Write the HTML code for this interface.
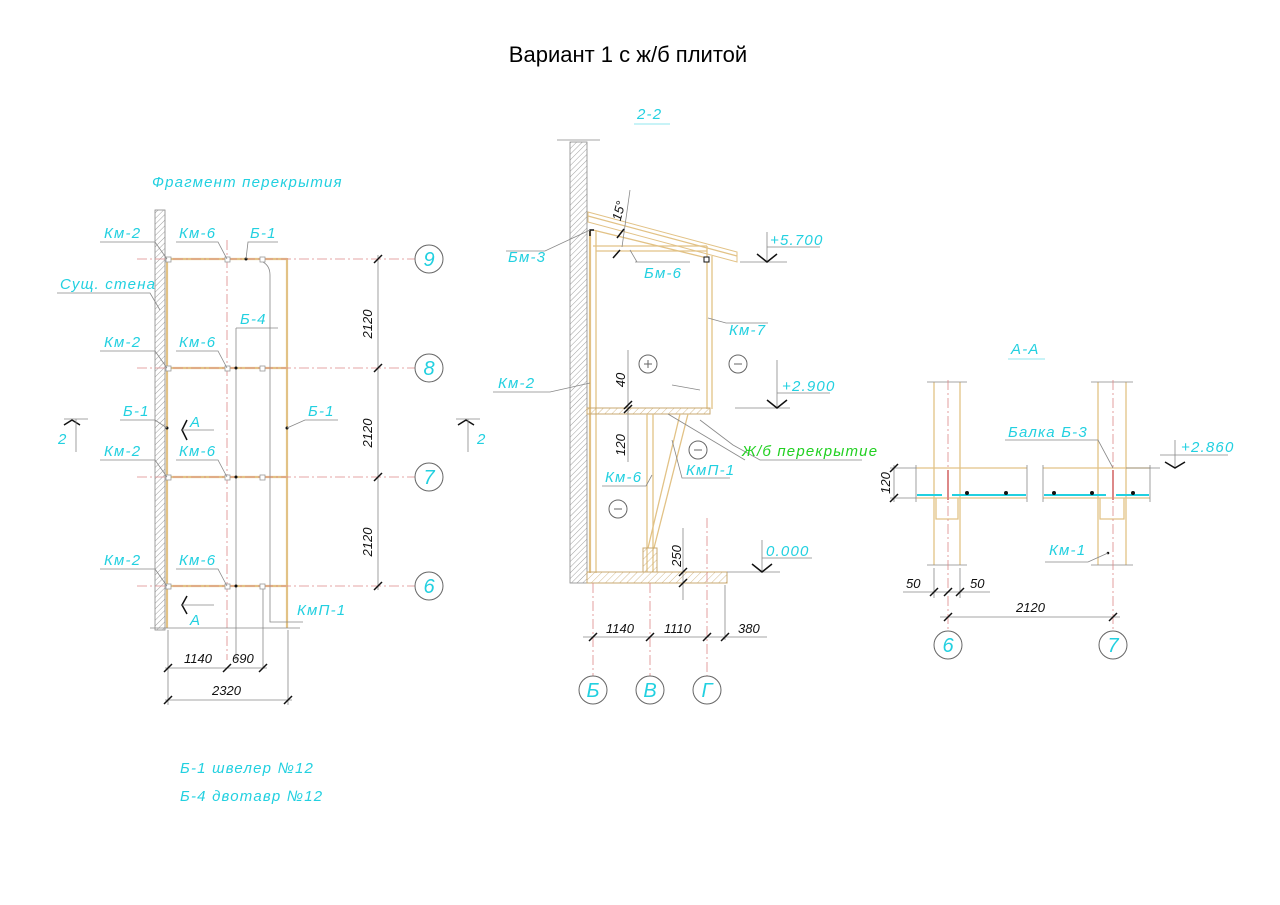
<!DOCTYPE html>
<html><head><meta charset="utf-8"><style>
html,body{margin:0;padding:0;background:#fff}
svg{display:block}
.t{font-family:"Liberation Sans",sans-serif;font-style:italic;fill:#22d0e0;font-size:15px;letter-spacing:1.2px}
.d{font-family:"Liberation Sans",sans-serif;font-style:italic;fill:#111;font-size:13px}
.g{fill:none;stroke:#888;stroke-width:0.8}
.y{fill:none;stroke:#e2c286;stroke-width:2.2}
.y1{fill:none;stroke:#e2c286;stroke-width:1.3}
.r{stroke:#d88;stroke-width:0.8;stroke-dasharray:10 3 2 3}
.k{stroke:#111;stroke-width:1.5}
.c{fill:#fff;stroke:#666;stroke-width:1}
.n{font-family:"Liberation Sans",sans-serif;font-style:italic;fill:#22d0e0;font-size:20px;text-anchor:middle}
</style></head><body>
<svg width="1280" height="905" viewBox="0 0 1280 905" xmlns="http://www.w3.org/2000/svg">
<defs>
<pattern id="h" width="4" height="4" patternUnits="userSpaceOnUse" patternTransform="rotate(45)"><line x1="0" y1="0" x2="0" y2="4" stroke="#888" stroke-width="0.8"/></pattern>
<pattern id="hy" width="5" height="5" patternUnits="userSpaceOnUse" patternTransform="rotate(45)"><line x1="0" y1="0" x2="0" y2="5" stroke="#c8a870" stroke-width="0.8"/></pattern>
</defs>
<text x="628" y="62" text-anchor="middle" font-family="Liberation Sans,sans-serif" font-size="22" fill="#000">Вариант 1  с ж/б плитой</text>

<!-- LEFT PLAN -->
<text x="152" y="187" class="t">Фрагмент перекрытия</text>
<rect x="155" y="210" width="10" height="420" fill="url(#h)" stroke="#888" stroke-width="0.8"/>
<line x1="167" y1="258" x2="167" y2="628" class="y"/>
<line x1="287" y1="258" x2="287" y2="628" class="y"/>
<line x1="167" y1="259" x2="287" y2="259" class="y"/>
<line x1="167" y1="368" x2="287" y2="368" class="y"/>
<line x1="167" y1="477" x2="287" y2="477" class="y"/>
<line x1="167" y1="586" x2="287" y2="586" class="y"/>
<line x1="227" y1="240" x2="227" y2="660" class="r"/>
<line x1="236" y1="328" x2="236" y2="660" class="g"/>
<line x1="263" y1="586" x2="263" y2="668" class="g"/>
<path d="M263 262 Q270 266 270 275 L270 622 L303 622" class="g"/>
<g class="r"><line x1="137" y1="259" x2="415" y2="259"/><line x1="137" y1="368" x2="415" y2="368"/><line x1="137" y1="477" x2="415" y2="477"/><line x1="137" y1="586" x2="415" y2="586"/></g>
<line x1="150" y1="628" x2="300" y2="628" class="g"/>
<g fill="#fff" stroke="#999" stroke-width="0.8">
<rect x="166" y="257" width="5" height="5"/><rect x="225" y="257" width="5" height="5"/><rect x="260" y="257" width="5" height="5"/>
<rect x="166" y="366" width="5" height="5"/><rect x="225" y="366" width="5" height="5"/><rect x="260" y="366" width="5" height="5"/>
<rect x="166" y="475" width="5" height="5"/><rect x="225" y="475" width="5" height="5"/><rect x="260" y="475" width="5" height="5"/>
<rect x="166" y="584" width="5" height="5"/><rect x="225" y="584" width="5" height="5"/><rect x="260" y="584" width="5" height="5"/>
</g>
<g fill="#111"><circle cx="246" cy="259" r="1.5"/><circle cx="236" cy="368" r="1.5"/><circle cx="236" cy="477" r="1.5"/><circle cx="236" cy="586" r="1.5"/><circle cx="167" cy="428" r="1.5"/><circle cx="287" cy="428" r="1.5"/></g>
<g class="g">
<path d="M100 242 L155 242 L167 259"/><path d="M176 242 L218 242 L227 259"/><path d="M246 259 L248 242 L278 242"/>
<path d="M57 293 L150 293 L160 310"/>
<path d="M100 351 L155 351 L167 368"/><path d="M176 351 L218 351 L227 368"/><path d="M236 328 L278 328"/>
<path d="M120 420 L155 420 L167 428"/><path d="M287 428 L305 420 L338 420"/>
<path d="M100 460 L155 460 L167 477"/><path d="M176 460 L218 460 L227 477"/>
<path d="M100 569 L155 569 L167 586"/><path d="M176 569 L218 569 L227 586"/>
</g>
<text x="104" y="238" class="t">Км-2</text><text x="179" y="238" class="t">Км-6</text><text x="250" y="238" class="t">Б-1</text>
<text x="60" y="289" class="t">Сущ. стена</text>
<text x="104" y="347" class="t">Км-2</text><text x="179" y="347" class="t">Км-6</text><text x="240" y="324" class="t">Б-4</text>
<text x="123" y="416" class="t">Б-1</text><text x="308" y="416" class="t">Б-1</text>
<text x="104" y="456" class="t">Км-2</text><text x="179" y="456" class="t">Км-6</text>
<text x="104" y="565" class="t">Км-2</text><text x="179" y="565" class="t">Км-6</text>
<text x="297" y="615" class="t">КмП-1</text>
<path d="M187 420 L182 430 L187 440" class="k" fill="none"/><line x1="182" y1="430" x2="214" y2="430" class="g"/><text x="190" y="427" class="t" font-size="16">А</text>
<path d="M187 596 L182 605 L187 614" class="k" fill="none"/><line x1="182" y1="605" x2="214" y2="605" class="g"/><text x="190" y="625" class="t" font-size="16">А</text>
<path d="M64 425 L72 420 L80 425" class="k" fill="none"/><line x1="64" y1="419" x2="88" y2="419" class="g"/><line x1="76" y1="419" x2="76" y2="452" class="g"/><text x="58" y="444" class="t" font-size="16">2</text>
<path d="M458 425 L466 420 L474 425" class="k" fill="none"/><line x1="456" y1="419" x2="480" y2="419" class="g"/><line x1="468" y1="419" x2="468" y2="452" class="g"/><text x="477" y="444" class="t" font-size="16">2</text>
<line x1="378" y1="255" x2="378" y2="590" class="g"/>
<g class="k"><line x1="374" y1="263" x2="382" y2="255"/><line x1="374" y1="372" x2="382" y2="364"/><line x1="374" y1="481" x2="382" y2="473"/><line x1="374" y1="590" x2="382" y2="582"/></g>
<text class="d" transform="translate(372,324) rotate(-90)" text-anchor="middle">2120</text>
<text class="d" transform="translate(372,433) rotate(-90)" text-anchor="middle">2120</text>
<text class="d" transform="translate(372,542) rotate(-90)" text-anchor="middle">2120</text>
<g><circle cx="429" cy="259" r="14" class="c"/><text x="429" y="266" class="n">9</text>
<circle cx="429" cy="368" r="14" class="c"/><text x="429" y="375" class="n">8</text>
<circle cx="429" cy="477" r="14" class="c"/><text x="429" y="484" class="n">7</text>
<circle cx="429" cy="586" r="14" class="c"/><text x="429" y="593" class="n">6</text></g>
<line x1="168" y1="630" x2="168" y2="705" class="g"/><line x1="288" y1="630" x2="288" y2="705" class="g"/>
<line x1="165" y1="668" x2="267" y2="668" class="g"/><line x1="165" y1="700" x2="292" y2="700" class="g"/>
<g class="k"><line x1="164" y1="672" x2="172" y2="664"/><line x1="223" y1="672" x2="231" y2="664"/><line x1="259" y1="672" x2="267" y2="664"/><line x1="164" y1="704" x2="172" y2="696"/><line x1="284" y1="704" x2="292" y2="696"/></g>
<text x="184" y="663" class="d">1140</text><text x="232" y="663" class="d">690</text><text x="212" y="695" class="d">2320</text>
<text x="180" y="773" class="t">Б-1 швелер №12</text>
<text x="180" y="801" class="t">Б-4 двотавр №12</text>

<!-- SECTION 2-2 -->
<text x="637" y="119" class="t" font-size="16">2-2</text><line x1="634" y1="124" x2="670" y2="124" stroke="#22d0e0" stroke-width="0.6"/>
<line x1="557" y1="140" x2="600" y2="140" class="g"/>
<rect x="570" y="142" width="17" height="441" fill="url(#h)" stroke="#888" stroke-width="0.8"/>
<path d="M588 212 L737 252 L737 262 L588 222 Z" fill="#fff" stroke="#e2c286" stroke-width="1"/>
<line x1="588" y1="216" x2="737" y2="256" class="y1"/>
<line x1="593" y1="230" x2="707" y2="258" class="y1"/>
<line x1="590" y1="230" x2="590" y2="573" class="y"/>
<line x1="596" y1="230" x2="596" y2="573" class="y1"/>
<line x1="593" y1="246" x2="707" y2="246" class="y1"/><line x1="596" y1="251" x2="707" y2="251" class="y1"/>
<line x1="707" y1="246" x2="707" y2="409" class="y1"/><line x1="712" y1="256" x2="712" y2="409" class="y1"/>
<rect x="704" y="257" width="5" height="5" fill="#fff" stroke="#111"/>
<path d="M590 236 L590 230 L594 230" stroke="#111" fill="none" stroke-width="1.5"/>
<rect x="587" y="408" width="123" height="6" fill="url(#hy)" stroke="#c8a870" stroke-width="1"/>
<line x1="647" y1="414" x2="647" y2="572" class="y1"/><line x1="653" y1="414" x2="653" y2="572" class="y1"/>
<line x1="680" y1="414" x2="648" y2="548" class="y1"/><line x1="688" y1="414" x2="654" y2="548" class="y1"/>
<rect x="643" y="548" width="14" height="24" fill="url(#hy)" stroke="#c8a870" stroke-width="1"/>
<rect x="587" y="572" width="140" height="11" fill="url(#hy)" stroke="#c8a870" stroke-width="1"/>
<line x1="727" y1="572" x2="780" y2="572" class="g"/>
<g class="r"><line x1="593" y1="583" x2="593" y2="676"/><line x1="650" y1="583" x2="650" y2="676"/><line x1="707" y1="518" x2="707" y2="676"/></g>
<line x1="725" y1="585" x2="725" y2="640" class="g"/>
<g class="c"><circle cx="648" cy="364" r="9"/><circle cx="738" cy="364" r="9"/><circle cx="698" cy="450" r="9"/><circle cx="618" cy="509" r="9"/></g>
<g stroke="#666" stroke-width="1"><line x1="644" y1="364" x2="652" y2="364"/><line x1="648" y1="360" x2="648" y2="368"/><line x1="734" y1="364" x2="742" y2="364"/><line x1="694" y1="450" x2="702" y2="450"/><line x1="614" y1="509" x2="622" y2="509"/></g>
<g class="g">
<path d="M506 251 L545 251 L590 230"/><path d="M635 262 L690 262 M637 262 L630 250"/>
<path d="M708 318 L726 323 L768 323"/><path d="M493 392 L550 392 L590 383"/>
<path d="M672 385 L700 390 M700 420 L733 445 L760 460 L862 460"/><path d="M668 414 L745 460"/>
<path d="M602 486 L646 486 L652 475"/><path d="M672 440 L682 478 L730 478"/>
<path d="M630 190 L622 247"/>
<line x1="628" y1="350" x2="628" y2="462"/>
<line x1="683" y1="528" x2="683" y2="600"/>
</g>
<g class="k"><line x1="624" y1="413" x2="632" y2="405"/><line x1="624" y1="409" x2="632" y2="401"/><line x1="679" y1="576" x2="687" y2="568"/><line x1="679" y1="587" x2="687" y2="579"/><line x1="617" y1="238" x2="624" y2="229"/><line x1="613" y1="258" x2="620" y2="250"/></g>
<text class="d" transform="translate(625,380) rotate(-90)" text-anchor="middle">40</text>
<text class="d" transform="translate(625,445) rotate(-90)" text-anchor="middle">120</text>
<text class="d" transform="translate(681,556) rotate(-90)" text-anchor="middle">250</text>
<text class="d" transform="translate(623,212) rotate(-75)" text-anchor="middle">15°</text>
<text x="508" y="262" class="t">Бм-3</text><text x="644" y="278" class="t">Бм-6</text>
<text x="729" y="335" class="t">Км-7</text><text x="498" y="388" class="t">Км-2</text>
<text x="742" y="456" class="t" style="fill:#22d022">Ж/б перекрытие</text>
<text x="605" y="482" class="t">Км-6</text><text x="686" y="475" class="t">КмП-1</text>
<g class="g"><line x1="767" y1="232" x2="767" y2="262"/><line x1="740" y1="262" x2="787" y2="262"/><line x1="767" y1="247" x2="820" y2="247"/>
<line x1="777" y1="360" x2="777" y2="408"/><line x1="735" y1="408" x2="790" y2="408"/><line x1="777" y1="393" x2="830" y2="393"/>
<line x1="762" y1="540" x2="762" y2="572"/><line x1="762" y1="558" x2="812" y2="558"/></g>
<g class="k" fill="none"><path d="M757 254 L767 262 L777 254"/><path d="M767 400 L777 408 L787 400"/><path d="M752 564 L762 572 L772 564"/></g>
<text x="770" y="245" class="t">+5.700</text><text x="782" y="391" class="t">+2.900</text><text x="766" y="556" class="t">0.000</text>
<line x1="583" y1="637" x2="767" y2="637" class="g"/>
<g class="k"><line x1="589" y1="641" x2="597" y2="633"/><line x1="646" y1="641" x2="654" y2="633"/><line x1="703" y1="641" x2="711" y2="633"/><line x1="721" y1="641" x2="729" y2="633"/></g>
<text x="606" y="633" class="d">1140</text><text x="664" y="633" class="d">1110</text><text x="738" y="633" class="d">380</text>
<circle cx="593" cy="690" r="14" class="c"/><text x="593" y="697" class="n">Б</text>
<circle cx="650" cy="690" r="14" class="c"/><text x="650" y="697" class="n">В</text>
<circle cx="707" cy="690" r="14" class="c"/><text x="707" y="697" class="n">Г</text>

<!-- SECTION A-A -->
<text x="1011" y="354" class="t" font-size="16">А-А</text><line x1="1008" y1="359" x2="1045" y2="359" stroke="#22d0e0" stroke-width="0.6"/>
<g class="y1">
<line x1="934" y1="382" x2="934" y2="565"/><line x1="960" y1="382" x2="960" y2="565"/>
<line x1="1098" y1="382" x2="1098" y2="565"/><line x1="1126" y1="382" x2="1126" y2="565"/>
<line x1="916" y1="468" x2="1027" y2="468"/><line x1="916" y1="498" x2="1027" y2="498"/>
<line x1="1043" y1="468" x2="1150" y2="468"/><line x1="1043" y1="498" x2="1150" y2="498"/>
<path d="M936 498 L936 519 L958 519 L958 498"/><path d="M1100 498 L1100 519 L1124 519 L1124 498"/>
</g>
<g class="g"><line x1="927" y1="382" x2="967" y2="382"/><line x1="927" y1="565" x2="967" y2="565"/><line x1="1091" y1="382" x2="1133" y2="382"/><line x1="1091" y1="565" x2="1133" y2="565"/>
<line x1="916" y1="465" x2="916" y2="502"/><line x1="1027" y1="465" x2="1027" y2="502"/><line x1="1043" y1="465" x2="1043" y2="502"/><line x1="1150" y1="465" x2="1150" y2="502"/>
<line x1="1126" y1="468" x2="1160" y2="468"/><line x1="890" y1="468" x2="916" y2="468"/><line x1="890" y1="498" x2="916" y2="498"/>
<line x1="894" y1="465" x2="894" y2="502"/></g>
<g stroke="#22d0e0" stroke-width="2"><line x1="917" y1="495" x2="942" y2="495"/><line x1="952" y1="495" x2="1026" y2="495"/><line x1="1044" y1="495" x2="1106" y2="495"/><line x1="1116" y1="495" x2="1149" y2="495"/></g>
<g fill="#111"><circle cx="967" cy="493" r="2"/><circle cx="1006" cy="493" r="2"/><circle cx="1054" cy="493" r="2"/><circle cx="1092" cy="493" r="2"/><circle cx="1133" cy="493" r="2"/><circle cx="1108" cy="553" r="1.3"/></g>
<g class="r"><line x1="948" y1="380" x2="948" y2="630"/><line x1="1113" y1="380" x2="1113" y2="630"/></g>
<line x1="948" y1="470" x2="948" y2="500" stroke="#d88" stroke-width="2"/><line x1="1113" y1="470" x2="1113" y2="500" stroke="#d88" stroke-width="2"/>
<g class="g"><path d="M1005 440 L1098 440 L1113 468"/><path d="M1045 562 L1088 562 L1108 553"/><line x1="1160" y1="455" x2="1228" y2="455"/><line x1="1175" y1="440" x2="1175" y2="468"/>
<line x1="903" y1="592" x2="990" y2="592"/><line x1="934" y1="568" x2="934" y2="598"/><line x1="960" y1="568" x2="960" y2="598"/>
<line x1="940" y1="617" x2="1120" y2="617"/></g>
<path d="M1165 462 L1175 468 L1185 462" class="k" fill="none"/>
<g class="k"><line x1="930" y1="596" x2="938" y2="588"/><line x1="944" y1="596" x2="952" y2="588"/><line x1="956" y1="596" x2="964" y2="588"/><line x1="944" y1="621" x2="952" y2="613"/><line x1="1109" y1="621" x2="1117" y2="613"/><line x1="890" y1="472" x2="898" y2="464"/><line x1="890" y1="502" x2="898" y2="494"/></g>
<text x="1008" y="437" class="t">Балка Б-3</text><text x="1181" y="452" class="t">+2.860</text><text x="1049" y="555" class="t">Км-1</text>
<text x="906" y="588" class="d">50</text><text x="970" y="588" class="d">50</text><text x="1016" y="612" class="d">2120</text>
<text class="d" transform="translate(890,483) rotate(-90)" text-anchor="middle">120</text>
<circle cx="948" cy="645" r="14" class="c"/><text x="948" y="652" class="n">6</text>
<circle cx="1113" cy="645" r="14" class="c"/><text x="1113" y="652" class="n">7</text>
</svg>
</body></html>
